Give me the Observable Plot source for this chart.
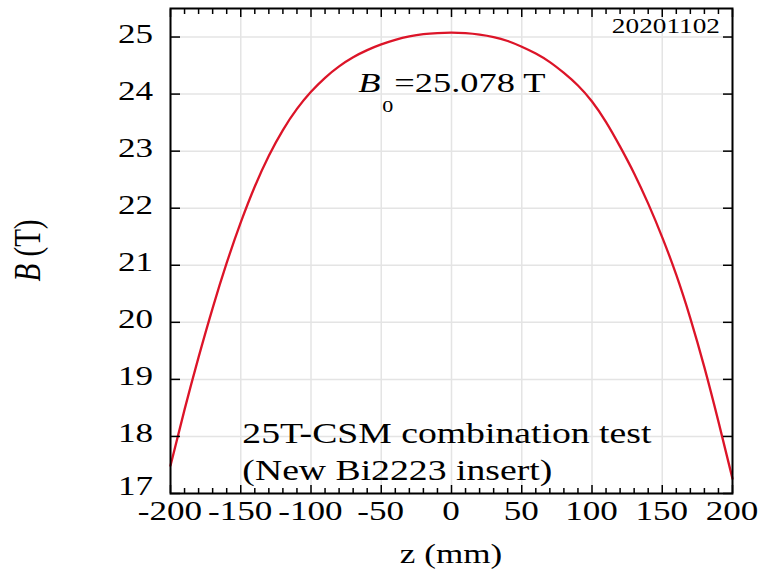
<!DOCTYPE html>
<html>
<head>
<meta charset="utf-8">
<script src="https://cdn.jsdelivr.net/npm/d3@7"></script>
<script src="https://cdn.jsdelivr.net/npm/@observablehq/plot@0.6"></script>
<style>
  html, body { margin: 0; padding: 0; background: #fff; }
</style>
</head>
<body>
<div id="chart"></div>
<script>
// Axial field profile
const zValues = [-200, -190, -180, -170, -160, -150, -140, -130, -120, -110, -100,
                 -90, -80, -70, -60, -50, -40, -30, -20, -10, 0,
                 10, 20, 30, 40, 50, 60, 70, 80, 90, 100,
                 110, 120, 130, 140, 150, 160, 170, 180, 190, 200];
const bValues = [17.49, 18.47, 19.39, 20.25, 21.04, 21.75, 22.38, 22.92, 23.37, 23.74, 24.04,
                 24.285, 24.485, 24.645, 24.77, 24.87, 24.95, 25.01, 25.05, 25.07, 25.078,
                 25.068, 25.043, 25.00, 24.93, 24.83, 24.71, 24.56, 24.37, 24.15, 23.87,
                 23.51, 23.08, 22.61, 22.08, 21.49, 20.83, 20.07, 19.21, 18.26, 17.26];

const xTicks = [-200, -150, -100, -50, 0, 50, 100, 150, 200];
const xTickLabels = ["-200", "-150", "-100", "-50", "0", "50", "100", "150", "200"];
const xMinorTicks = d3.range(-200, 201, 10).filter(v => v % 50 !== 0);
const yTicks = [17, 18, 19, 20, 21, 22, 23, 24, 25];
const yTickLabels = ["17", "18", "19", "20", "21", "22", "23", "24", "25"];

const xLabel = "z (mm)";
const yLabelItalic = "B";
const yLabelRest = " (T)";
const dateText = "20201102";
const peakSymbol = "B";
const peakSub = "0";
const peakText = "=25.078 T";
const noteLines = ["25T-CSM combination test", "(New Bi2223 insert)"];

const data = zValues.map((z, i) => ({z, b: bValues[i]}));

const W = 762, H = 580;
const FONT = "'Liberation Serif', 'Times New Roman', serif";
const STRETCH = 1.3;
const blank = () => "";

const chart = Plot.plot({
  width: W,
  height: H,
  marginLeft: 170,
  marginRight: 30,
  marginTop: 8,
  marginBottom: 87,
  x: {domain: [-200, 200]},
  y: {domain: [17, 25.5]},
  style: {fontFamily: FONT, fontSize: "27px", background: "#fff", color: "#000", overflow: "visible"},
  marks: [
    Plot.gridX(xTicks, {stroke: "#e4e4e4", strokeOpacity: 1, strokeWidth: 1.5}),
    Plot.gridY(yTicks, {stroke: "#e4e4e4", strokeOpacity: 1, strokeWidth: 1.5}),
    Plot.line(data, {x: "z", y: "b", stroke: "#dc1428", strokeWidth: 2.3, curve: "natural"}),
    // inward ticks
    Plot.axisX(xTicks, {anchor: "bottom", tickSize: -8, strokeWidth: 1.5, tickFormat: blank, label: null}),
    Plot.axisX(xMinorTicks, {anchor: "bottom", tickSize: -5, strokeWidth: 1.5, tickFormat: blank, label: null}),
    Plot.axisX(xTicks, {anchor: "top", tickSize: -8, strokeWidth: 1.5, tickFormat: blank, label: null}),
    Plot.axisX(xMinorTicks, {anchor: "top", tickSize: -5, strokeWidth: 1.5, tickFormat: blank, label: null}),
    Plot.axisY(yTicks, {anchor: "left", tickSize: -10, strokeWidth: 1.5, tickFormat: blank, label: null}),
    Plot.axisY(yTicks, {anchor: "right", tickSize: -10, strokeWidth: 1.5, tickFormat: blank, label: null}),
    Plot.frame({stroke: "#000", strokeWidth: 2})
  ]
});

document.getElementById("chart").appendChild(chart);

const svg = d3.select(chart);
// drop the empty tick-label texts
svg.selectAll("text").filter(function () { return this.textContent === ""; }).remove();

const sx = chart.scale("x");
const sy = chart.scale("y");
const X = (v) => sx.apply(v);
const Y = (v) => sy.apply(v);

// serif glyphs widened horizontally, as in the reference
function addText(x, y, opts = {}) {
  const g = svg.append("g")
    .attr("transform", `translate(${x},${y}) scale(${STRETCH},1)${opts.rotate ? ` rotate(${opts.rotate})` : ""}`);
  return g.append("text")
    .attr("font-family", FONT)
    .attr("font-size", opts.size || 27)
    .attr("text-anchor", opts.anchor || "start")
    .attr("fill", "#000");
}

// tick labels
xTicks.forEach((v, i) => addText(X(v), Y(17) + 27, {anchor: "middle"}).text(xTickLabels[i]));
yTicks.forEach((v, i) => addText(X(-200) - 17, Y(v) + (i === 0 ? 2 : 6.5), {anchor: "end"}).text(yTickLabels[i]));

// x axis label
addText(X(0), H - 17, {anchor: "middle"}).text(xLabel);

// y axis label (rotated)
{
  const t = addText(40, (Y(17) + Y(25.5)) / 2, {anchor: "middle", rotate: -90, size: 29});
  t.append("tspan").attr("font-style", "italic").text(yLabelItalic);
  t.append("tspan").text(yLabelRest);
}

// date stamp, top right
addText(X(200) - 12, Y(25.5) + 25, {anchor: "end", size: 21}).text(dateText);

// B0 annotation
{
  const bx = X(-66), by = Y(24.02);
  addText(bx, by, {size: 28}).attr("font-style", "italic").text(peakSymbol);
  addText(bx + 24, by + 20, {size: 17}).text(peakSub);
  addText(bx + 36, by, {size: 28}).text(peakText);
}

// note
{
  const nx = X(-148.5);
  addText(nx, Y(17.88), {size: 29}).text(noteLines[0]);
  addText(nx, Y(17.23), {size: 29}).text(noteLines[1]);
}
</script>
</body>
</html>
